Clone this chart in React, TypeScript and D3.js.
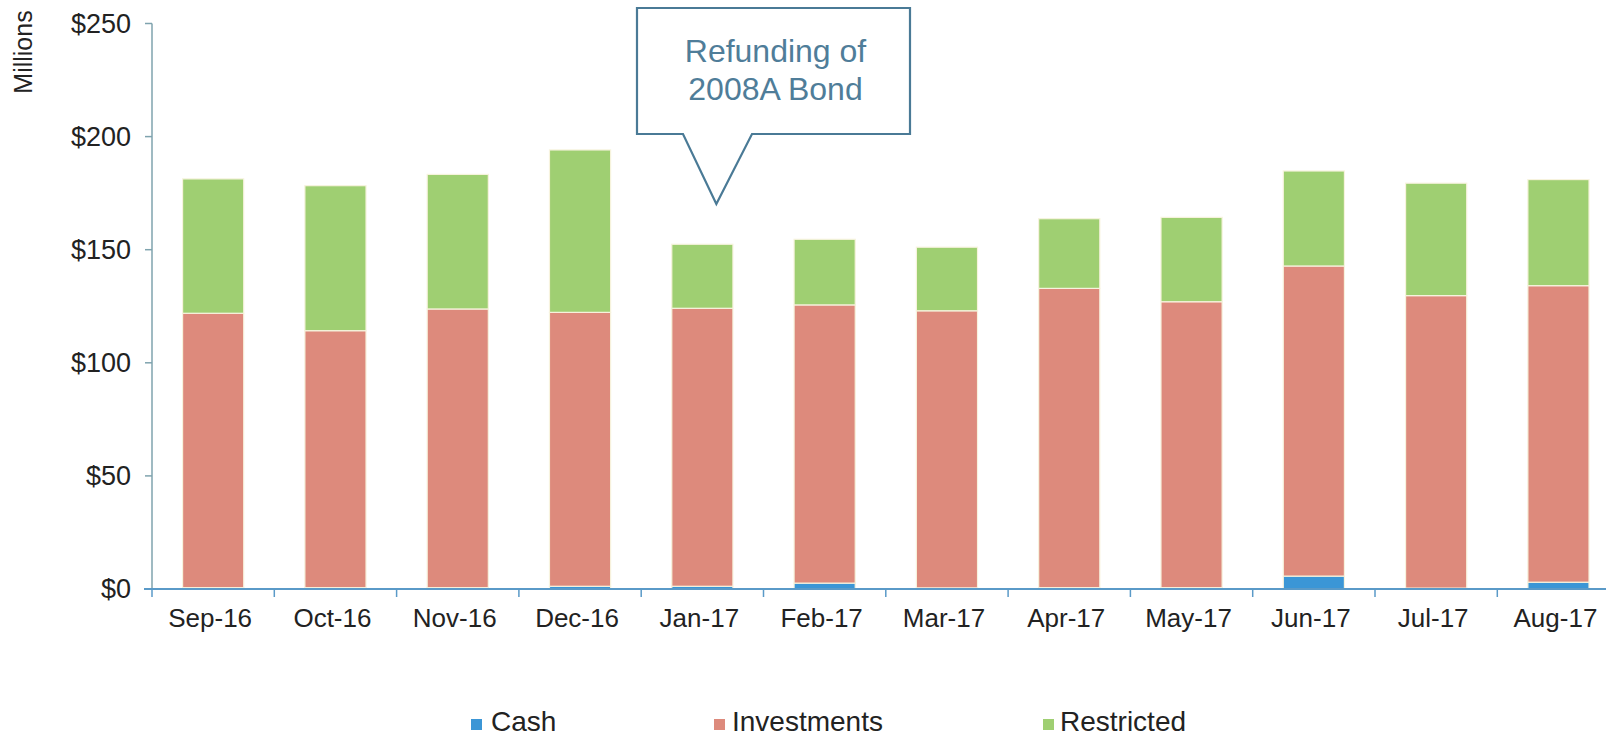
import React from "react";
import * as d3 from "d3";

const months = ["Sep-16","Oct-16","Nov-16","Dec-16","Jan-17","Feb-17","Mar-17","Apr-17","May-17","Jun-17","Jul-17","Aug-17"];
const cash = [0.6, 0.6, 0.6, 1.2, 1.2, 2.6, 0.5, 0.6, 0.6, 5.7, 0.4, 3.0];
const investments = [121.3, 113.6, 123.2, 121.1, 122.9, 123.0, 122.5, 132.3, 126.4, 137.1, 129.3, 131.1];
const restricted = [59.4, 64.1, 59.5, 71.8, 28.3, 29.0, 28.1, 30.8, 37.3, 42.0, 49.7, 46.9];
const yTicks = [0, 50, 100, 150, 200, 250];
const seriesNames = ["Cash", "Investments", "Restricted"];
const seriesColors = ["#3b96d6", "#dd8a7c", "#9fcf72"];
const calloutLines = ["Refunding of", "2008A Bond"];

const W = 1606, H = 738;
const FONT = "'Liberation Sans', Arial, sans-serif";

export default function App() {
  const rows = months.map((m, i) => ({ month: m, Cash: cash[i], Investments: investments[i], Restricted: restricted[i] }));
  const stack = d3.stack<any>().keys(seriesNames)(rows);
  const x = d3.scaleBand().domain(months).range([152, 152 + 12 * 122.3]).paddingInner(0.5).paddingOuter(0.25);
  const y = d3.scaleLinear().domain([0, 250]).range([589, 23.5]);
  const step = x.step();
  const x0 = 152;

  // callout geometry
  const bx0 = 637, bx1 = 910, by0 = 8, by1 = 134;
  const tipX = x("Jan-17")! + x.bandwidth() / 2 + 14, tipY = 204;
  const calloutPath = `M${bx0},${by0} L${bx1},${by0} L${bx1},${by1} L752,${by1} L${tipX},${tipY} L683,${by1} L${bx0},${by1} Z`;

  const legendItems = [
    { sq: 471, tx: 491 },
    { sq: 714, tx: 732 },
    { sq: 1043, tx: 1060 },
  ];

  return (
    <svg width={W} height={H} style={{ position: "absolute", left: 0, top: 0, background: "#fff" }} fontFamily={FONT}>
      {/* bars */}
      {stack.map((s, si) => (
        <g key={si} fill={seriesColors[si]}>
          {s.map((d, i) => (
            <rect key={i} x={x(months[i])} y={y(d[1])} width={x.bandwidth()} height={Math.max(0, y(d[0]) - y(d[1]))}
              stroke="#f7f3de" strokeWidth={1.2} />
          ))}
        </g>
      ))}
      {/* y axis */}
      <line x1={x0} x2={x0} y1={y(250)} y2={y(0)} stroke="#7fa3ae" strokeWidth={1.5} />
      {yTicks.map((t) => (
        <g key={t}>
          <line x1={x0 - 7} x2={x0} y1={y(t)} y2={y(t)} stroke="#7fa3ae" strokeWidth={1.5} />
          <text x={131} y={y(t)} dy="0.35em" textAnchor="end" fontSize={27} fill="#222">{`$${t}`}</text>
        </g>
      ))}
      <text transform={`translate(32,52) rotate(-90)`} textAnchor="middle" fontSize={25} fill="#222">Millions</text>
      {/* x axis */}
      <line x1={x0 - 8} x2={W} y1={y(0)} y2={y(0)} stroke="#5a9ac8" strokeWidth={2} />
      {months.map((m, i) => (
        <g key={m}>
          <line x1={x0 + i * step} x2={x0 + i * step} y1={y(0)} y2={y(0) + 8} stroke="#5a9ac8" strokeWidth={1.5} />
          <text x={x(m)! + x.bandwidth() / 2 - 3} y={627} textAnchor="middle" fontSize={26} fill="#222">{m}</text>
        </g>
      ))}
      {/* callout */}
      <path d={calloutPath} fill="#fff" stroke="#4a7a96" strokeWidth={2.2} strokeLinejoin="miter" />
      {calloutLines.map((l, i) => (
        <text key={i} x={(bx0 + bx1) / 2 + 2} y={62 + i * 38} textAnchor="middle" fontSize={32} fill="#4f7d99">{l}</text>
      ))}
      {/* legend */}
      {seriesNames.map((n, i) => (
        <g key={n}>
          <rect x={legendItems[i].sq} y={719} width={11} height={11} fill={seriesColors[i]} />
          <text x={legendItems[i].tx} y={731} fontSize={28} fill="#222">{n}</text>
        </g>
      ))}
    </svg>
  );
}
